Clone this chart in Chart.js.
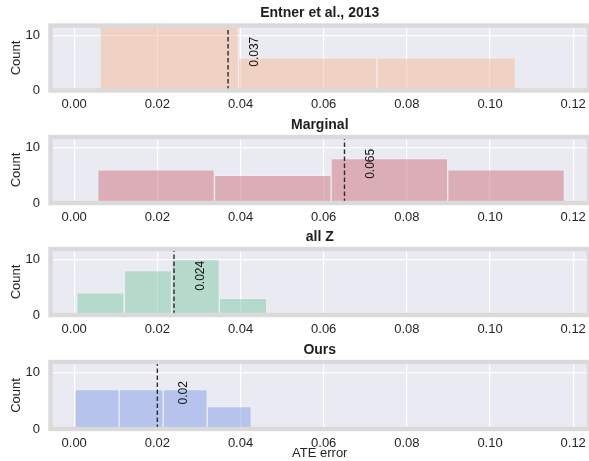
<!DOCTYPE html>
<html>
<head>
<meta charset="utf-8">
<script src="https://cdn.jsdelivr.net/npm/chart.js@4/dist/chart.umd.min.js"></script>
<style>
  html, body { margin: 0; padding: 0; background: #ffffff; }
  #wrap { position: relative; width: 589px; height: 461px; overflow: hidden; }
  #wrap canvas { position: absolute; left: 0; }
</style>
</head>
<body>
<div id="wrap">
  <canvas id="p0" width="593" height="112" style="top:0px"></canvas>
  <canvas id="p1" width="593" height="112" style="top:112px"></canvas>
  <canvas id="p2" width="593" height="112" style="top:224px"></canvas>
  <canvas id="p3" width="593" height="125" style="top:336px"></canvas>
</div>
<script>
// ---- data ----
const panelTitles = ['Entner et al., 2013', 'Marginal', 'all Z', 'Ours'];

const entnerEdges   = [0.0062, 0.0395, 0.0728, 0.1061];
const entnerCounts  = [13, 6, 6];
const marginalEdges = [0.0057, 0.0337, 0.0618, 0.0898, 0.1179];
const marginalCounts = [6, 5, 8, 6];
const allZEdges     = [0.0006, 0.0120, 0.0235, 0.0349, 0.0463];
const allZCounts    = [4, 8, 10, 3];
const oursEdges     = [0.0002, 0.0108, 0.0214, 0.0320, 0.0426];
const oursCounts    = [7, 7, 7, 4];

const meanErrors = [0.037, 0.065, 0.024, 0.02];

const xTickValues = [0.00, 0.02, 0.04, 0.06, 0.08, 0.10, 0.12];
const yTickValues = [0, 10];

const xLabel = 'ATE error';
const yLabel = 'Count';

// ---- styling ----
const histEdges  = [entnerEdges, marginalEdges, allZEdges, oursEdges];
const histCounts = [entnerCounts, marginalCounts, allZCounts, oursCounts];
const barColors = [
  'rgba(244, 186, 150, 0.5)',
  'rgba(204, 112, 124, 0.5)',
  'rgba(128, 202, 164, 0.5)',
  'rgba(130, 156, 230, 0.5)'
];
const X_MIN = -0.0057, X_MAX = 0.1238;
const Y_MAX = 11.9;
const FONT = '"Liberation Sans", Arial, Helvetica, sans-serif';
const TEXT = '#262626';

// plot-area placement inside each canvas: top padding, right padding and x-axis band height
const frames = [
  { padTop: 25.5, axisH: 21.5 },
  { padTop: 25.0, axisH: 21.0 },
  { padTop: 25.0, axisH: 21.0 },
  { padTop: 26.0, axisH: 32.0 }
];
const AREA_LEFT = 50.5, AREA_RIGHT = 589;

Chart.defaults.font.family = FONT;
Chart.defaults.font.size = 13;
Chart.defaults.color = TEXT;

// axes background, frame, mean marker, its value and the panel title
const panelDecor = {
  id: 'panelDecor',
  beforeDraw(chart) {
    const a = chart.chartArea, ctx = chart.ctx;
    ctx.save();
    ctx.fillStyle = '#eaeaf2';
    ctx.fillRect(a.left, a.top, a.right - a.left, a.bottom - a.top);
    ctx.restore();
  },
  afterDatasetsDraw(chart, args, opts) {
    const a = chart.chartArea, ctx = chart.ctx;
    const xs = chart.scales.x, ys = chart.scales.y;

    // dashed mean line
    const px = xs.getPixelForValue(opts.mean);
    ctx.save();
    ctx.beginPath();
    ctx.rect(a.left, a.top, a.right - a.left, a.bottom - a.top);
    ctx.clip();
    ctx.strokeStyle = '#2a2a2a';
    ctx.lineWidth = 1.4;
    ctx.setLineDash([4.5, 2.5]);
    ctx.beginPath();
    ctx.moveTo(px, a.bottom);
    ctx.lineTo(px, a.top);
    ctx.stroke();
    ctx.restore();

    // mean value, written upwards beside the line
    ctx.save();
    ctx.translate(xs.getPixelForValue(opts.mean + 0.0064), ys.getPixelForValue(4.35));
    ctx.rotate(-Math.PI / 2);
    ctx.font = '12px ' + FONT;
    ctx.fillStyle = '#111111';
    ctx.textAlign = 'left';
    ctx.textBaseline = 'middle';
    ctx.fillText(String(opts.mean), 0, 0);
    ctx.restore();

    // light frame around the axes
    ctx.save();
    ctx.strokeStyle = '#dadada';
    ctx.lineWidth = 4.4;
    ctx.strokeRect(a.left, a.top, a.right - a.left, a.bottom - a.top);
    ctx.restore();

    // title
    ctx.save();
    ctx.font = 'bold 14px ' + FONT;
    ctx.fillStyle = '#1e1e1e';
    ctx.textAlign = 'center';
    ctx.textBaseline = 'middle';
    ctx.fillText(opts.title, (a.left + a.right) / 2, a.top - 12);
    ctx.restore();
  }
};

function makePanel(i) {
  const edges = histEdges[i], counts = histCounts[i];
  const points = counts.map((c, k) => ({ x: (edges[k] + edges[k + 1]) / 2, y: c }));
  const last = i === panelTitles.length - 1;
  const fr = frames[i];
  const canvas = document.getElementById('p' + i);

  new Chart(canvas, {
    type: 'bar',
    data: {
      datasets: [{
        data: points,
        xAxisID: 'xb',
        yAxisID: 'y',
        backgroundColor: barColors[i],
        borderColor: 'rgba(255,255,255,0.2)',
        borderWidth: 1,
        borderSkipped: 'bottom',
        barPercentage: 1,
        categoryPercentage: 1
      }]
    },
    options: {
      responsive: false,
      animation: false,
      events: [],
      layout: {
        padding: { top: fr.padTop, left: 0, right: canvas.width - AREA_RIGHT, bottom: 0 },
        autoPadding: false
      },
      plugins: {
        legend: { display: false },
        tooltip: { enabled: false },
        panelDecor: { title: panelTitles[i], mean: meanErrors[i] }
      },
      scales: {
        xb: {
          type: 'linear',
          position: 'bottom',
          display: false,
          offset: false,
          min: X_MIN, max: X_MAX,
          grid: { offset: false },
          afterBuildTicks: (axis) => { axis.ticks = [{ value: X_MIN }, { value: X_MAX }]; }
        },
        x: {
          type: 'linear',
          position: 'bottom',
          min: X_MIN, max: X_MAX,
          offset: false,
          afterBuildTicks: (axis) => { axis.ticks = xTickValues.map(v => ({ value: v })); },
          afterFit: (axis) => { axis.height = fr.axisH; axis.paddingLeft = 0; axis.paddingRight = 0; },
          ticks: {
            padding: 6.5,
            maxRotation: 0,
            autoSkip: false,
            color: TEXT,
            font: { size: 13 },
            callback: (v) => Number(v).toFixed(2)
          },
          grid: { color: '#ffffff', lineWidth: 1.2, drawTicks: false, offset: false },
          border: { display: false },
          title: {
            display: last,
            text: xLabel,
            color: TEXT,
            font: { size: 13 },
            padding: { top: 0, bottom: 0 }
          }
        },
        y: {
          type: 'linear',
          position: 'left',
          min: 0, max: Y_MAX,
          afterBuildTicks: (axis) => { axis.ticks = yTickValues.map(v => ({ value: v })); },
          afterFit: (axis) => { axis.width = AREA_LEFT; },
          ticks: {
            padding: 10.5,
            color: TEXT,
            font: { size: 13 },
            callback: (v) => String(v)
          },
          grid: { color: '#ffffff', lineWidth: 1.2, drawTicks: false },
          border: { display: false },
          title: {
            display: true,
            text: yLabel,
            color: TEXT,
            font: { size: 13 },
            padding: { top: 9, bottom: 0 }
          }
        }
      }
    },
    plugins: [panelDecor]
  });
}

for (let i = 0; i < panelTitles.length; i++) makePanel(i);
</script>
</body>
</html>
